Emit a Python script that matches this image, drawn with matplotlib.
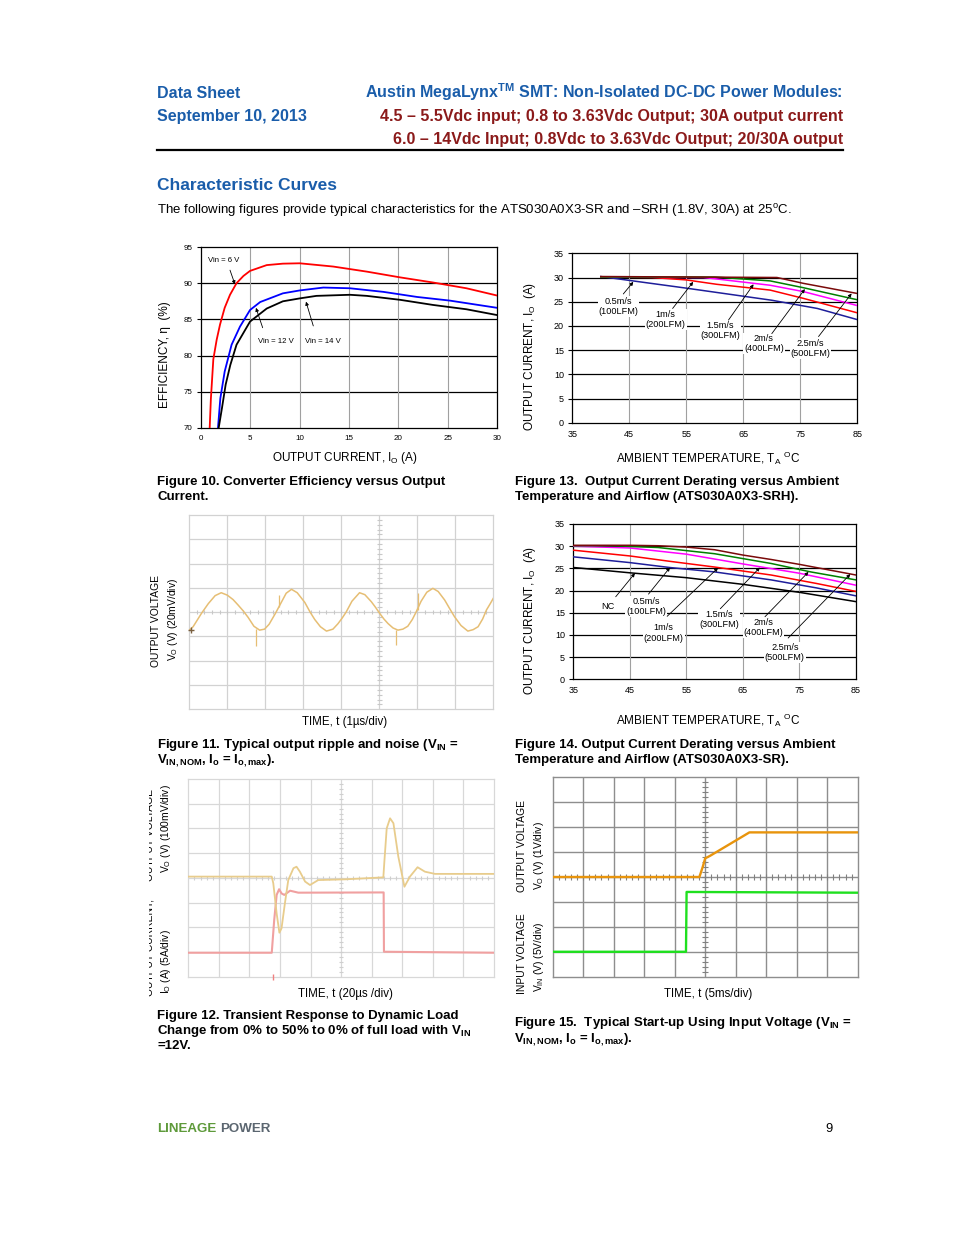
import numpy as np
import matplotlib
matplotlib.use("Agg")
import matplotlib.pyplot as plt
from matplotlib.lines import Line2D
from matplotlib.transforms import Bbox

plt.rcParams['font.family'] = ['Liberation Sans', 'DejaVu Sans']
plt.rcParams['mathtext.fontset'] = 'custom'
plt.rcParams['mathtext.rm'] = 'Liberation Sans'
plt.rcParams['mathtext.it'] = 'Liberation Sans:italic'
plt.rcParams['mathtext.bf'] = 'Liberation Sans:bold'

# ---------------- data ----------------
# Figure 10: efficiency (%) vs output current (A)
eff_6v_i = [0.88, 1.0, 1.25, 1.59, 1.93, 2.4, 2.94, 3.6, 4.3, 4.97, 6.66, 8.3, 10, 13.4, 16.8, 20.2, 23.5, 26.9, 30]
eff_6v = [70, 74, 79.5, 82.2, 84.3, 86.6, 88.4, 90.0, 91.0, 91.7, 92.5, 92.7, 92.75, 92.3, 91.6, 90.8, 90.1, 89.3, 88.3]
eff_12v_i = [1.72, 1.96, 2.4, 3.1, 3.95, 4.97, 6.0, 8.3, 10, 12.4, 15.1, 18.5, 21.9, 25.2, 30]
eff_12v = [70, 74.1, 77.8, 81.5, 84.0, 86.3, 87.4, 88.6, 89.0, 89.4, 89.3, 88.8, 88.1, 87.6, 86.6]
eff_14v_i = [1.79, 2.13, 2.5, 2.97, 3.6, 4.97, 6.66, 8.3, 10, 11.7, 15.1, 16.8, 20.2, 23.5, 26.9, 30]
eff_14v = [70, 72.8, 76.0, 78.7, 81.5, 84.7, 86.5, 87.5, 87.9, 88.25, 88.4, 88.25, 87.7, 87.0, 86.4, 85.6]

# Figure 13: derating (ATS030A0X3-SRH), output current (A) vs ambient (C)
d13_t_05 = [40, 55, 70, 78, 85]
d13_i_05 = [30.2, 27.8, 25.3, 23.6, 21.3]
d13_t_1 = [40, 49, 55, 60.3, 69.7, 75.5, 85]
d13_i_1 = [30.1, 30.0, 29.5, 28.6, 27.4, 25.7, 22.7]
d13_t_15 = [40, 58, 60.3, 69.7, 75.5, 85]
d13_i_15 = [30.1, 30.0, 29.7, 28.4, 27.1, 24.2]
d13_t_2 = [40, 60, 69.7, 75.5, 85]
d13_i_2 = [30.1, 30.1, 29.3, 27.9, 25.4]
d13_t_25 = [40, 70.9, 75.5, 85]
d13_i_25 = [30.2, 30.0, 28.8, 26.7]

# Figure 14: derating (ATS030A0X3-SR)
d14_t_nc = [35, 45, 55, 65, 75, 85]
d14_i_nc = [25.2, 24.0, 22.9, 21.4, 19.6, 17.5]
d14_t_05 = [35, 45, 52, 60, 70, 78, 85]
d14_i_05 = [27.6, 26.3, 25.2, 24.2, 22.4, 20.6, 18.8]
d14_t_1 = [35, 45, 52, 60, 70, 78, 85]
d14_i_1 = [29.1, 27.8, 26.6, 25.3, 23.5, 21.6, 19.8]
d14_t_15 = [35, 45, 55, 65, 75, 85]
d14_i_15 = [30.0, 29.6, 28.2, 26.0, 23.9, 21.2]
d14_t_2 = [35, 42, 50, 60, 70, 77, 85]
d14_i_2 = [30.1, 30.1, 29.7, 28.3, 26.1, 24.2, 22.4]
d14_t_25 = [35, 45, 50, 55, 60, 65, 70, 75, 80, 85]
d14_i_25 = [30.2, 30.2, 30.1, 29.8, 29.2, 28.0, 27.0, 25.9, 24.7, 23.5]

airflow_labels = ["0.5m/s\n(100LFM)", "1m/s\n(200LFM)", "1.5m/s\n(300LFM)", "2m/s\n(400LFM)", "2.5m/s\n(500LFM)"]

# Figure 11: ripple trace (divisions)
ripple_t = [0.00, 0.10, 0.32, 0.50, 0.68, 0.84, 1.00, 1.15, 1.28, 1.42, 1.55, 1.70, 1.85, 1.98, 2.10, 2.27,
            2.42, 2.55, 2.69, 2.84, 3.04, 3.18, 3.30, 3.45, 3.61, 3.78, 3.91, 4.02, 4.13, 4.28, 4.48, 4.62,
            4.79, 4.90, 5.01, 5.12, 5.23, 5.36, 5.49, 5.62, 5.75, 5.87, 5.97, 6.10, 6.25, 6.41, 6.55, 6.72,
            6.85, 6.98, 7.15, 7.33, 7.47, 7.60, 7.72, 7.82, 7.92, 8.00]
ripple_v = [3.26, 3.40, 3.95, 4.35, 4.68, 4.80, 4.70, 4.52, 4.30, 4.05, 3.78, 3.42, 3.26, 3.30, 3.50, 3.96,
            4.40, 4.78, 4.94, 4.80, 4.40, 4.00, 3.70, 3.40, 3.22, 3.30, 3.52, 3.75, 4.01, 4.45, 4.80, 4.72,
            4.43, 4.20, 3.95, 3.72, 3.53, 3.35, 3.26, 3.30, 3.42, 3.70, 4.01, 4.45, 4.82, 4.98, 4.85, 4.50,
            4.15, 3.81, 3.45, 3.22, 3.28, 3.40, 3.72, 4.09, 4.35, 4.57]
spike_t = [1.75, 2.35, 5.45, 6.02]
spike_base = [3.30, 4.20, 3.28, 4.10]
spike_tip = [2.61, 4.71, 2.65, 4.78]

# Figure 12: transient response (divisions)
vo12_t = [0, 2.73, 2.78, 2.89, 2.98, 3.05, 3.16, 3.27, 3.44, 3.54, 3.65, 3.82, 3.98, 4.25, 5.13, 6.38,
          6.41, 6.49, 6.60, 6.71, 6.87, 7.07, 7.25, 7.50, 7.74, 8.07, 10]
vo12_v = [4.05, 4.05, 3.78, 2.56, 1.78, 1.96, 2.97, 3.91, 4.39, 4.45, 4.25, 3.85, 3.71, 3.91, 3.94, 4.02,
          4.59, 6.0, 6.41, 6.21, 4.86, 3.64, 4.05, 4.43, 4.25, 4.16, 4.16]
io12_t = [0, 2.73, 2.81, 2.89, 2.97, 3.05, 3.14, 3.33, 3.60, 6.39, 6.40, 10]
io12_v = [0.97, 0.97, 2.29, 3.31, 3.54, 3.37, 3.31, 3.48, 3.40, 3.41, 1.01, 0.97]

# Figure 15: start-up (divisions)
vo15_t = [0, 4.81, 4.92, 5.0, 5.16, 6.45, 10]
vo15_v = [4.0, 4.0, 4.41, 4.75, 4.85, 5.79, 5.79]
vin15_t = [0, 4.37, 4.39, 10]
vin15_v = [1.0, 1.0, 3.40, 3.37]

# ---------------- layout helpers ----------------
W, H = 954, 1235
fig = plt.figure(figsize=(W / 100, H / 100), dpi=100)
fig.patch.set_facecolor('white')


def add_ax(x0, y0, x1, y1):
    return fig.add_axes([x0 / W, 1 - y1 / H, (x1 - x0) / W, (y1 - y0) / H])


def ftext(x, y, s, **kw):
    return fig.text(x / W, 1 - y / H, s, **kw)


BLUE = '#1A5DAA'
DRED = '#8B1A1A'

# ---------------- header ----------------
ftext(157, 98, "Data Sheet", color=BLUE, fontsize=11.5, fontweight='bold')
ftext(157, 121, "September 10, 2013", color=BLUE, fontsize=11.5, fontweight='bold')
ftext(843, 98, r"Austin MegaLynx$^{\mathbf{TM}}$ SMT: Non-Isolated DC-DC Power Modules:", color=BLUE,
      fontsize=11.5, fontweight='bold', ha='right')
ftext(843, 121, "4.5 \u2013 5.5Vdc input; 0.8 to 3.63Vdc Output; 30A output current", color=DRED,
      fontsize=11.5, fontweight='bold', ha='right')
ftext(843, 144, "6.0 \u2013 14Vdc Input; 0.8Vdc to 3.63Vdc Output; 20/30A output", color=DRED,
      fontsize=11.5, fontweight='bold', ha='right')
fig.add_artist(Line2D([157 / W, 843 / W], [1 - 149.5 / H] * 2, lw=1.6, color='black',
                      transform=fig.transFigure))
ftext(157, 190, "Characteristic Curves", color=BLUE, fontsize=12.5, fontweight='bold')
ftext(157, 214, "The following figures provide typical characteristics for the ATS030A0X3-SR and \u2013SRH (1.8V, 30A) at 25$^{\\mathrm{o}}$C.",
      fontsize=9.5, color='black')

# ---------------- footer ----------------
ftext(157, 1132, "LINEAGE", color='#5E9A3A', fontsize=9.6, fontweight='bold')
ftext(220, 1132, "POWER", color='#5B6670', fontsize=9.6, fontweight='bold')
ftext(825, 1132, "9", fontsize=9.3)


# ---------------- chart style helpers ----------------
def chart_frame(ax, xt, yt, xlim, ylim, tsize):
    ax.set_xlim(*xlim)
    ax.set_ylim(*ylim)
    ax.set_xticks(xt)
    ax.set_yticks(yt)
    for v in yt[1:-1]:
        ax.axhline(v, color='black', lw=0.9, zorder=1)
    for v in xt[1:-1]:
        ax.axvline(v, color='#A0A0A0', lw=0.8, zorder=1)
    for s in ax.spines.values():
        s.set_color('black')
        s.set_linewidth(0.9)
    ax.tick_params(direction='out', length=3, width=0.8, labelsize=tsize, pad=3)
    ax.tick_params(axis='x', length=0, pad=5)


# ---------------- Figure 10 ----------------
ax10 = add_ax(201, 247, 497, 428)
chart_frame(ax10, [0, 5, 10, 15, 20, 25, 30], [70, 75, 80, 85, 90, 95], (0, 30), (70, 95), 5.8)
ax10.plot(eff_6v_i, eff_6v, color='#FF0000', lw=1.3, zorder=3)
ax10.plot(eff_12v_i, eff_12v, color='#0000FF', lw=1.3, zorder=3)
ax10.plot(eff_14v_i, eff_14v, color='black', lw=1.3, zorder=3)
ap = dict(arrowstyle='-|>', mutation_scale=5, lw=0.6, color='black', shrinkA=0, shrinkB=0)
ax10.text(0.71, 93.2, "Vin = 6 V", fontsize=5.6, va='center', ha='left')
ax10.annotate('', xy=(3.44, 89.85), xytext=(2.94, 91.8), arrowprops=ap)
ax10.text(5.8, 81.9, "Vin = 12 V", fontsize=5.6, va='center', ha='left')
ax10.annotate('', xy=(5.57, 86.6), xytext=(6.25, 83.85), arrowprops=ap)
ax10.text(10.54, 81.9, "Vin = 14 V", fontsize=5.6, va='center', ha='left')
ax10.annotate('', xy=(10.64, 87.45), xytext=(11.38, 84.1), arrowprops=ap)
ftext(345, 458, r"OUTPUT CURRENT, I$_{\mathrm{O}}$ (A)", fontsize=8.5, ha='center', va='center')
ftext(165, 355, "EFFICIENCY, \u03b7  (%)", fontsize=8.5, ha='center', va='center', rotation=90)

# ---------------- Figure 13 ----------------
ax13 = add_ax(572.3, 253.3, 857.3, 422.7)
chart_frame(ax13, [35, 45, 55, 65, 75, 85], [0, 5, 10, 15, 20, 25, 30, 35], (35, 85), (0, 35), 6.5)
ax13.plot(d13_t_05, d13_i_05, color='#1E1E9A', lw=1.1, zorder=3)
ax13.plot(d13_t_1, d13_i_1, color='#FF0000', lw=1.1, zorder=3)
ax13.plot(d13_t_15, d13_i_15, color='#FF00FF', lw=1.1, zorder=3)
ax13.plot(d13_t_2, d13_i_2, color='#008000', lw=1.1, zorder=3)
ax13.plot(d13_t_25, d13_i_25, color='#7A0A0A', lw=1.1, zorder=4)
lab13 = [(43.1, 23.95), (51.4, 21.3), (61.0, 19.0), (68.6, 16.4), (76.8, 15.3)]
arr13 = [((43.95, 26.6), (45.7, 29.1)), ((52.6, 23.6), (56.2, 29.1)), ((62.4, 21.2), (66.8, 28.6)),
         ((70.0, 18.4), (75.8, 27.6)), ((78.2, 17.8), (84.0, 26.7))]
bb = dict(facecolor='white', edgecolor='none', pad=0.6)
for lab, (x, y), (tl, hd) in zip(airflow_labels, lab13, arr13):
    ax13.text(x, y, lab, fontsize=6.6, ha='center', va='center', bbox=bb, zorder=5, linespacing=1.2)
    ax13.annotate('', xy=hd, xytext=tl, arrowprops=ap, zorder=6)
ftext(708, 458, r"AMBIENT TEMPERATURE, T$_{\mathrm{A}}$ $^{\mathrm{O}}$C", fontsize=8.5, ha='center', va='center')
ftext(530, 356, r"OUTPUT CURRENT, I$_{\mathrm{O}}$  (A)", fontsize=8.5, ha='center', va='center', rotation=90)

# ---------------- Figure 14 ----------------
ax14 = add_ax(573.3, 524, 856, 679.3)
chart_frame(ax14, [35, 45, 55, 65, 75, 85], [0, 5, 10, 15, 20, 25, 30, 35], (35, 85), (0, 35), 6.5)
ax14.plot(d14_t_nc, d14_i_nc, color='black', lw=1.1, zorder=3)
ax14.plot(d14_t_05, d14_i_05, color='#1E1E9A', lw=1.1, zorder=3)
ax14.plot(d14_t_1, d14_i_1, color='#FF0000', lw=1.1, zorder=3)
ax14.plot(d14_t_15, d14_i_15, color='#FF00FF', lw=1.1, zorder=3)
ax14.plot(d14_t_2, d14_i_2, color='#008000', lw=1.1, zorder=3)
ax14.plot(d14_t_25, d14_i_25, color='#7A0A0A', lw=1.1, zorder=4)
ax14.text(41.2, 16.5, "NC", fontsize=6.6, ha='center', va='center', bbox=bb, zorder=5)
ax14.annotate('', xy=(45.9, 23.9), xytext=(42.5, 18.6), arrowprops=ap, zorder=6)
lab14 = [(47.9, 16.4), (51.0, 10.4), (60.8, 13.5), (68.6, 11.7), (72.4, 6.0)]
arr14 = [((48.3, 19.2), (52.1, 25.2)), ((51.6, 14.2), (60.6, 25.1)), ((61.0, 15.9), (68.0, 25.2)),
         ((68.9, 14.1), (76.6, 24.2)), ((73.0, 9.3), (84.0, 23.7))]
for lab, (x, y), (tl, hd) in zip(airflow_labels, lab14, arr14):
    ax14.text(x, y, lab, fontsize=6.6, ha='center', va='center', bbox=bb, zorder=5, linespacing=1.2)
    ax14.annotate('', xy=hd, xytext=tl, arrowprops=ap, zorder=6)
ftext(708, 720, r"AMBIENT TEMPERATURE, T$_{\mathrm{A}}$ $^{\mathrm{O}}$C", fontsize=8.5, ha='center', va='center')
ftext(530, 620, r"OUTPUT CURRENT, I$_{\mathrm{O}}$  (A)", fontsize=8.5, ha='center', va='center', rotation=90)


# ---------------- scope helper ----------------
def scope(ax, nx, ny, cx, cy, gcol, glw, tcol, tpx):
    ax.set_xlim(0, nx)
    ax.set_ylim(0, ny)
    ax.set_xticks([])
    ax.set_yticks([])
    for i in range(1, nx):
        ax.axvline(i, color=gcol, lw=glw, zorder=1)
    for j in range(1, ny):
        ax.axhline(j, color=gcol, lw=glw, zorder=1)
    for s in ax.spines.values():
        s.set_color(gcol)
        s.set_linewidth(glw)
    bb_ = ax.get_position()
    wpx = bb_.width * W / nx
    hpx = bb_.height * H / ny
    ty = tpx / hpx
    tx = tpx / wpx
    ax.vlines(np.arange(0.2, nx, 0.2), cy - ty, cy + ty, color=tcol, lw=0.8, zorder=1)
    ax.hlines(np.arange(0.2, ny, 0.2), cx - tx, cx + tx, color=tcol, lw=0.8, zorder=1)


# ---------------- Figure 11 ----------------
ax11 = add_ax(189.3, 515, 493.3, 709.3)
scope(ax11, 8, 8, 5, 4, '#D2D2D2', 0.9, '#C8C8C8', 2.2)
ax11.plot(ripple_t, ripple_v, color='#E6BE74', lw=1.1, zorder=3)
ax11.vlines(spike_t, spike_base, spike_tip, color='#E6BE74', lw=0.9, zorder=3)
ax11.plot([0.04], [3.26], marker='+', color='#7A6040', ms=5, mew=1, clip_on=False, zorder=4)
ftext(156, 621, "OUTPUT VOLTAGE", fontsize=7.4, ha='center', va='center', rotation=90)
ftext(173, 619, r"V$_{\mathrm{O}}$ (V) (20mV/div)", fontsize=7.4, ha='center', va='center', rotation=90)
ftext(345, 722, "TIME, t (1\u00b5s/div)", fontsize=8.3, ha='center', va='center')

# ---------------- Figure 12 ----------------
ax12 = add_ax(188.3, 779, 494, 976.7)
scope(ax12, 10, 8, 5, 4, '#D8D8D8', 0.9, '#CFCFCF', 2.2)
ax12.plot(io12_t, io12_v, color='#F0A0A0', lw=1.5, zorder=3)
ax12.plot(vo12_t, vo12_v, color='#E8CC8C', lw=1.3, zorder=4)
ax12.plot([2.76], [0.0], marker='|', color='#F08080', ms=4, clip_on=False, zorder=4)


def clipped_vtext(x, y, s, clip, **kw):
    t = ftext(x, y, s, rotation=90, ha='center', va='center', **kw)
    x0, y0, x1, y1 = clip
    t.set_clip_box(Bbox.from_extents(x0, H - y1, x1, H - y0))
    t.set_clip_on(True)
    return t


clipped_vtext(149.8, 835, "OUTPUT VOLTAGE", (148.5, 785, 160, 997), fontsize=7.4)
clipped_vtext(149.8, 947, "OUTPUT CURRENT,", (148.5, 785, 160, 997), fontsize=7.4)
ftext(166, 829, r"V$_{\mathrm{O}}$ (V) (100mV/div)", fontsize=7.4, ha='center', va='center', rotation=90)
clipped_vtext(166, 962, r"I$_{\mathrm{O}}$ (A) (5A/div)", (155, 785, 180, 997), fontsize=7.4)
ftext(345, 994, "TIME, t (20\u00b5s /div)", fontsize=8.3, ha='center', va='center')

# ---------------- Figure 15 ----------------
ax15 = add_ax(552.7, 777.3, 857.7, 976.7)
scope(ax15, 10, 8, 5, 4, '#8E8E8E', 1.0, '#808080', 3.0)
ax15.plot(vin15_t, vin15_v, color='#1FE01F', lw=1.7, zorder=3)
ax15.plot(vo15_t, vo15_v, color='#E8940C', lw=1.7, zorder=4)
ftext(522, 846, "OUTPUT VOLTAGE", fontsize=7.4, ha='center', va='center', rotation=90)
ftext(539, 856, r"V$_{\mathrm{O}}$ (V) (1V/div)", fontsize=7.4, ha='center', va='center', rotation=90)
ftext(522, 954, "INPUT VOLTAGE", fontsize=7.4, ha='center', va='center', rotation=90)
ftext(539, 957, r"V$_{\mathrm{IN}}$ (V) (5V/div)", fontsize=7.4, ha='center', va='center', rotation=90)
ftext(708, 994, "TIME, t (5ms/div)", fontsize=8.3, ha='center', va='center')

# ---------------- captions ----------------
cap = dict(fontsize=9.5, fontweight='bold', color='black')
ftext(157, 485, "Figure 10. Converter Efficiency versus Output", **cap)
ftext(157, 500, "Current.", **cap)
ftext(515, 485, "Figure 13.  Output Current Derating versus Ambient", **cap)
ftext(515, 500, "Temperature and Airflow (ATS030A0X3-SRH).", **cap)
ftext(157, 748, r"Figure 11. Typical output ripple and noise (V$_{\mathbf{IN}}$ =", **cap)
ftext(157, 763, r"V$_{\mathbf{IN,NOM}}$, I$_{\mathbf{o}}$ = I$_{\mathbf{o,max}}$).", **cap)
ftext(515, 748, "Figure 14. Output Current Derating versus Ambient", **cap)
ftext(515, 763, "Temperature and Airflow (ATS030A0X3-SR).", **cap)
ftext(157, 1019, "Figure 12. Transient Response to Dynamic Load", **cap)
ftext(157, 1034, r"Change from 0% to 50% to 0% of full load with V$_{\mathbf{IN}}$", **cap)
ftext(157, 1049, "=12V.", **cap)
ftext(514, 1026, r"Figure 15.  Typical Start-up Using Input Voltage (V$_{\mathbf{IN}}$ =", **cap)
ftext(514, 1042, r"V$_{\mathbf{IN,NOM}}$, I$_{\mathbf{o}}$ = I$_{\mathbf{o,max}}$).", **cap)

fig.savefig("out.png", dpi=100)
